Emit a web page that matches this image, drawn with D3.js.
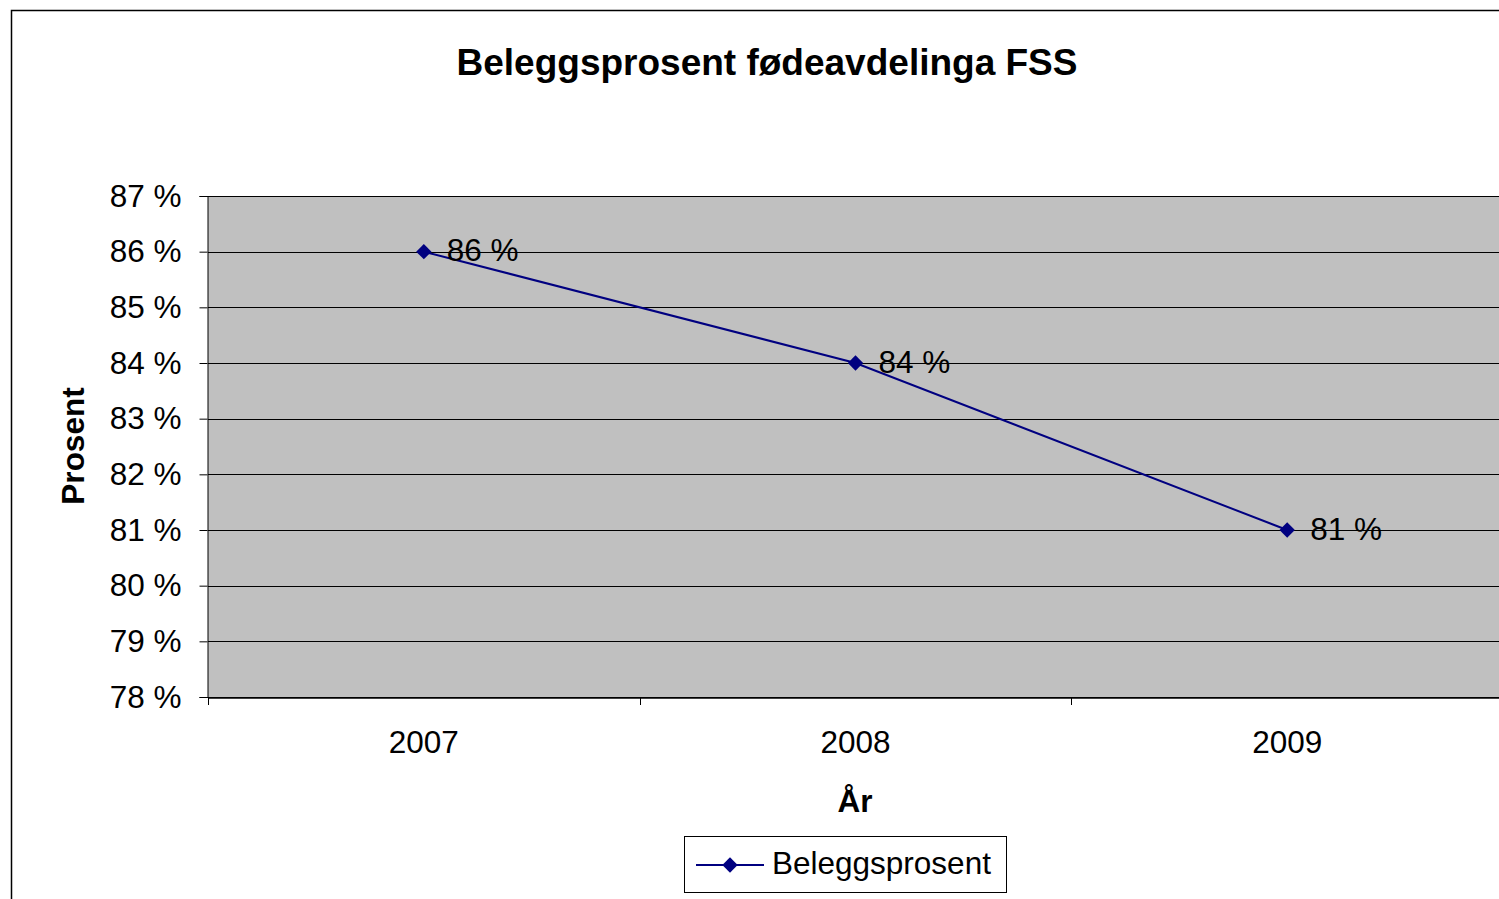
<!DOCTYPE html>
<html><head><meta charset="utf-8">
<script src="https://cdn.jsdelivr.net/npm/d3@7"></script>
<style>body{margin:0;background:#fff;}svg{display:block;font-family:"Liberation Sans",Arial,sans-serif;}</style>
</head><body>
<svg id="c" width="1499" height="899"></svg>
<script>
const categories = ["2007", "2008", "2009"];
const values = [86, 84, 81];
const dataLabels = ["86 %", "84 %", "81 %"];
const yTicks = [78, 79, 80, 81, 82, 83, 84, 85, 86, 87];
const seriesName = "Beleggsprosent";
const title = "Beleggsprosent fødeavdelinga FSS";
const xTitle = "År";
const yTitle = "Prosent";

const svg = d3.select("#c");
const plot = {left: 208, top: 196, right: 1503, bottom: 697};
const fs = 31.5;

// outer frame
svg.append("rect").attr("x", 11.5).attr("y", 10.5).attr("width", 1600).attr("height", 1000)
  .attr("fill", "#fff").attr("stroke", "#000").attr("stroke-width", 1.5);

const x = d3.scaleBand().domain(categories).range([plot.left, plot.right]);
const y = d3.scaleLinear().domain([78, 87]).range([plot.bottom, plot.top]);

svg.append("rect").attr("x", plot.left).attr("y", plot.top)
  .attr("width", plot.right - plot.left).attr("height", plot.bottom - plot.top)
  .attr("fill", "#c0c0c0");

// grid lines
svg.append("g").selectAll("line").data(yTicks).join("line")
  .attr("x1", plot.left).attr("x2", plot.right)
  .attr("y1", d => Math.round(y(d)) + 0.5).attr("y2", d => Math.round(y(d)) + 0.5)
  .attr("stroke", "#000").attr("stroke-width", 1);

// y axis
const yAxis = d3.axisLeft(y).tickValues(yTicks).tickSize(8).tickPadding(18)
  .tickFormat(d => d + " %");
const gy = svg.append("g").attr("transform", `translate(${plot.left - 0.5},0)`).call(yAxis);
gy.select(".domain").attr("stroke", "#000");
gy.selectAll("text").attr("font-size", fs).attr("fill", "#000");
gy.selectAll(".tick line").attr("stroke", "#000");

// x axis
const xAxis = d3.axisBottom(x).tickSize(0).tickPadding(33);
const gx = svg.append("g").attr("transform", `translate(0,${plot.bottom + 0.5})`).call(xAxis);
gx.select(".domain").attr("stroke", "#000").attr("stroke-width", 1.5);
gx.selectAll("text").attr("font-size", fs).attr("fill", "#000");
// category boundary ticks
const bounds = categories.map(c => x(c)).concat([plot.right]);
svg.append("g").selectAll("line").data(bounds).join("line")
  .attr("x1", d => Math.round(d) + 0.5).attr("x2", d => Math.round(d) + 0.5)
  .attr("y1", plot.bottom).attr("y2", plot.bottom + 8).attr("stroke", "#000");

// line
const cx = d => x(d) + x.bandwidth() / 2;
const pts = categories.map((c, i) => [cx(c), y(values[i])]);
svg.append("path").attr("d", d3.line()(pts)).attr("fill", "none")
  .attr("stroke", "#000080").attr("stroke-width", 2);
const diamond = d3.symbol().type(d3.symbolDiamond2).size(150);
svg.append("g").selectAll("path").data(pts).join("path")
  .attr("transform", d => `translate(${d[0]},${d[1]})`)
  .attr("d", diamond).attr("fill", "#000080");
svg.append("g").selectAll("text").data(pts).join("text")
  .attr("x", d => d[0] + 23).attr("y", d => d[1] + 9.5)
  .attr("font-size", fs).attr("fill", "#000")
  .text((d, i) => dataLabels[i]);

// titles
svg.append("text").attr("x", 767).attr("y", 75).attr("text-anchor", "middle")
  .attr("font-size", 37).attr("font-weight", "bold").text(title);
svg.append("text").attr("x", 855).attr("y", 812).attr("text-anchor", "middle")
  .attr("font-size", fs).attr("font-weight", "bold").text(xTitle);
svg.append("text").attr("transform", "translate(84,446) rotate(-90)").attr("text-anchor", "middle")
  .attr("font-size", fs).attr("font-weight", "bold").text(yTitle);

// legend
const lg = svg.append("g");
lg.append("rect").attr("x", 684.5).attr("y", 836.5).attr("width", 322).attr("height", 56)
  .attr("fill", "#fff").attr("stroke", "#000").attr("stroke-width", 1);
lg.append("line").attr("x1", 696).attr("x2", 764).attr("y1", 865).attr("y2", 865)
  .attr("stroke", "#000080").attr("stroke-width", 2);
lg.append("path").attr("transform", "translate(730,865)").attr("d", diamond).attr("fill", "#000080");
lg.append("text").attr("x", 772).attr("y", 874).attr("font-size", fs).text(seriesName);
</script>
</body></html>
